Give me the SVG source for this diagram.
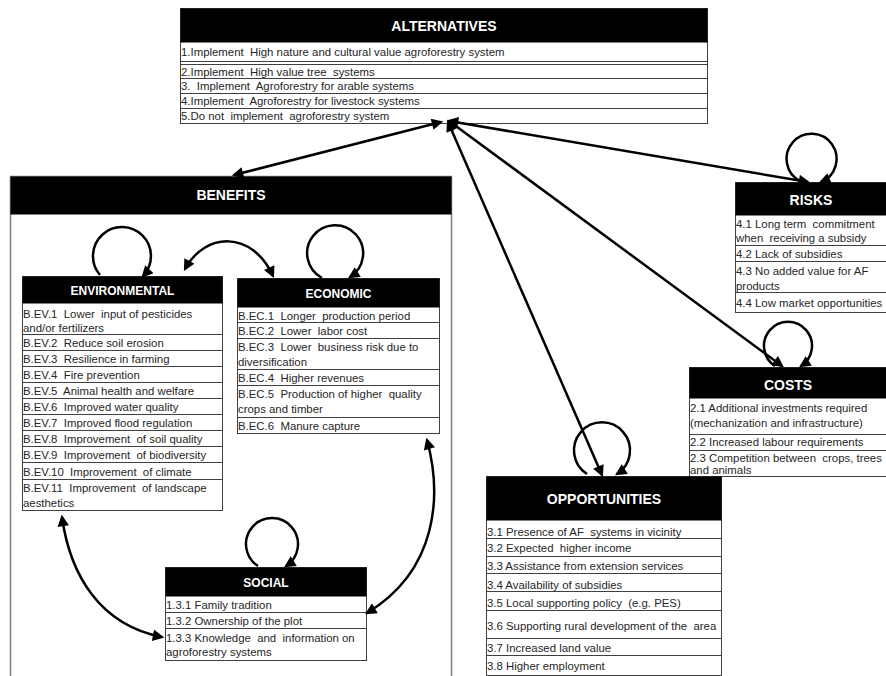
<svg xmlns="http://www.w3.org/2000/svg" width="886" height="676" viewBox="0 0 886 676">
<defs>
<marker id="ah" viewBox="0 0 10 10" refX="8" refY="5" markerWidth="5" markerHeight="4.6" orient="auto-start-reverse" markerUnits="strokeWidth">
<path d="M0,0 L10,5 L0,10 z" fill="#000"/>
</marker>
<style>
.box{fill:#fff;stroke:#404040;stroke-width:1}
.big{fill:#fff;stroke:#7f7f7f;stroke-width:1.5}
.hd{fill:#000}
.ln{stroke:#404040;stroke-width:1}
.t{font-family:"Liberation Sans",Arial,sans-serif;font-size:11.4px;fill:#262626;white-space:pre}
.h1{font-family:"Liberation Sans",Arial,sans-serif;font-size:14px;font-weight:bold;fill:#fff;text-anchor:middle}
.h2{font-family:"Liberation Sans",Arial,sans-serif;font-size:12px;font-weight:bold;fill:#fff;text-anchor:middle}
.c{fill:none;stroke:#000;stroke-width:2.5}
.ab{marker-start:url(#ah);marker-end:url(#ah)}
.ae{marker-end:url(#ah)}
</style>
</defs>
<rect width="886" height="676" fill="#fff"/>

<g id="benefits">
<rect class="big" x="10.5" y="176.5" width="441" height="510"/>
<rect class="hd" x="10.5" y="176.5" width="441" height="38"/>
<text class="h1" x="231" y="200">BENEFITS</text>
</g>

<g id="alternatives">
<rect class="box" x="180.5" y="8.5" width="527" height="115"/>
<rect class="hd" x="180.5" y="8.5" width="527" height="34"/>
<text class="h1" x="444" y="31">ALTERNATIVES</text>
<line class="ln" x1="180.5" y1="61.5" x2="707.5" y2="61.5"/>
<line class="ln" x1="180.5" y1="64.5" x2="707.5" y2="64.5"/>
<line class="ln" x1="180.5" y1="78.5" x2="707.5" y2="78.5"/>
<line class="ln" x1="180.5" y1="93.5" x2="707.5" y2="93.5"/>
<line class="ln" x1="180.5" y1="108.5" x2="707.5" y2="108.5"/>
<text class="t" x="181" y="55.5">1.Implement  High nature and cultural value agroforestry system</text>
<text class="t" x="181" y="75.5">2.Implement  High value tree  systems</text>
<text class="t" x="181" y="90">3.  Implement  Agroforestry for arable systems</text>
<text class="t" x="181" y="105">4.Implement  Agroforestry for livestock systems</text>
<text class="t" x="181" y="120">5.Do not  implement  agroforestry system</text>
</g>

<g id="environmental">
<rect class="box" x="22.5" y="276.5" width="200" height="234"/>
<rect class="hd" x="22.5" y="276.5" width="200" height="27"/>
<text class="h2" x="122.5" y="294.5">ENVIRONMENTAL</text>
<line class="ln" x1="22.5" y1="334.5" x2="222.5" y2="334.5"/>
<line class="ln" x1="22.5" y1="350.5" x2="222.5" y2="350.5"/>
<line class="ln" x1="22.5" y1="366.5" x2="222.5" y2="366.5"/>
<line class="ln" x1="22.5" y1="382.5" x2="222.5" y2="382.5"/>
<line class="ln" x1="22.5" y1="398.5" x2="222.5" y2="398.5"/>
<line class="ln" x1="22.5" y1="414.5" x2="222.5" y2="414.5"/>
<line class="ln" x1="22.5" y1="430.5" x2="222.5" y2="430.5"/>
<line class="ln" x1="22.5" y1="446.5" x2="222.5" y2="446.5"/>
<line class="ln" x1="22.5" y1="462.5" x2="222.5" y2="462.5"/>
<line class="ln" x1="22.5" y1="479.5" x2="222.5" y2="479.5"/>
<text class="t" x="23" y="317.5">B.EV.1  Lower  input of pesticides</text>
<text class="t" x="23" y="331.5">and/or fertilizers</text>
<text class="t" x="23" y="347">B.EV.2  Reduce soil erosion</text>
<text class="t" x="23" y="363">B.EV.3  Resilience in farming</text>
<text class="t" x="23" y="379">B.EV.4  Fire prevention</text>
<text class="t" x="23" y="395">B.EV.5  Animal health and welfare</text>
<text class="t" x="23" y="411">B.EV.6  Improved water quality</text>
<text class="t" x="23" y="427">B.EV.7  Improved flood regulation</text>
<text class="t" x="23" y="443">B.EV.8  Improvement  of soil quality</text>
<text class="t" x="23" y="459">B.EV.9  Improvement  of biodiversity</text>
<text class="t" x="23" y="475.5">B.EV.10  Improvement  of climate</text>
<text class="t" x="23" y="492">B.EV.11  Improvement  of landscape</text>
<text class="t" x="23" y="506.5">aesthetics</text>
</g>

<g id="economic">
<rect class="box" x="237.5" y="278.5" width="202" height="155"/>
<rect class="hd" x="237.5" y="278.5" width="202" height="29"/>
<text class="h2" x="338.5" y="297.5">ECONOMIC</text>
<line class="ln" x1="237.5" y1="322.5" x2="439.5" y2="322.5"/>
<line class="ln" x1="237.5" y1="338.5" x2="439.5" y2="338.5"/>
<line class="ln" x1="237.5" y1="369.5" x2="439.5" y2="369.5"/>
<line class="ln" x1="237.5" y1="385.5" x2="439.5" y2="385.5"/>
<line class="ln" x1="237.5" y1="417.5" x2="439.5" y2="417.5"/>
<text class="t" x="238" y="319.5">B.EC.1  Longer  production period</text>
<text class="t" x="238" y="335">B.EC.2  Lower  labor cost</text>
<text class="t" x="238" y="351">B.EC.3  Lower  business risk due to</text>
<text class="t" x="238" y="366">diversification</text>
<text class="t" x="238" y="382">B.EC.4  Higher revenues</text>
<text class="t" x="238" y="398">B.EC.5  Production of higher  quality</text>
<text class="t" x="238" y="413">crops and timber</text>
<text class="t" x="238" y="430">B.EC.6  Manure capture</text>
</g>

<g id="social">
<rect class="box" x="165.5" y="567.5" width="201" height="93"/>
<rect class="hd" x="165.5" y="567.5" width="201" height="29"/>
<text class="h2" x="266" y="586.5">SOCIAL</text>
<line class="ln" x1="165.5" y1="612.5" x2="366.5" y2="612.5"/>
<line class="ln" x1="165.5" y1="628.5" x2="366.5" y2="628.5"/>
<text class="t" x="166" y="609">1.3.1 Family tradition</text>
<text class="t" x="166" y="625">1.3.2 Ownership of the plot</text>
<text class="t" x="166" y="641.5">1.3.3 Knowledge  and  information on</text>
<text class="t" x="166" y="656">agroforestry systems</text>
</g>

<g id="risks">
<rect class="box" x="735.5" y="182.5" width="152" height="130"/>
<rect class="hd" x="735.5" y="182.5" width="152" height="33"/>
<text class="h1" x="811" y="204.5">RISKS</text>
<line class="ln" x1="735.5" y1="245.5" x2="887" y2="245.5"/>
<line class="ln" x1="735.5" y1="261.5" x2="887" y2="261.5"/>
<line class="ln" x1="735.5" y1="292.5" x2="887" y2="292.5"/>
<text class="t" x="736" y="228">4.1 Long term  commitment</text>
<text class="t" x="736" y="242">when  receiving a subsidy</text>
<text class="t" x="736" y="258">4.2 Lack of subsidies</text>
<text class="t" x="736" y="274.5">4.3 No added value for AF</text>
<text class="t" x="736" y="289.5">products</text>
<text class="t" x="736" y="306.5">4.4 Low market opportunities</text>
</g>

<g id="costs">
<rect class="box" x="689.5" y="367.5" width="198" height="109"/>
<rect class="hd" x="689.5" y="367.5" width="198" height="31"/>
<text class="h1" x="788" y="389.5">COSTS</text>
<line class="ln" x1="689.5" y1="434.5" x2="887" y2="434.5"/>
<line class="ln" x1="689.5" y1="450.5" x2="887" y2="450.5"/>
<text class="t" x="690" y="412">2.1 Additional investments required</text>
<text class="t" x="690" y="427">(mechanization and infrastructure)</text>
<text class="t" x="690" y="446">2.2 Increased labour requirements</text>
<text class="t" x="690" y="461.5">2.3 Competition between  crops, trees</text>
<text class="t" x="690" y="474">and animals</text>
</g>

<g id="opportunities">
<rect class="box" x="486.5" y="476.5" width="235" height="199"/>
<rect class="hd" x="486.5" y="476.5" width="235" height="44"/>
<text class="h1" x="604" y="503.5">OPPORTUNITIES</text>
<line class="ln" x1="486.5" y1="538.5" x2="721.5" y2="538.5"/>
<line class="ln" x1="486.5" y1="556.5" x2="721.5" y2="556.5"/>
<line class="ln" x1="486.5" y1="573.5" x2="721.5" y2="573.5"/>
<line class="ln" x1="486.5" y1="591.5" x2="721.5" y2="591.5"/>
<line class="ln" x1="486.5" y1="610.5" x2="721.5" y2="610.5"/>
<line class="ln" x1="486.5" y1="638.5" x2="721.5" y2="638.5"/>
<line class="ln" x1="486.5" y1="655.5" x2="721.5" y2="655.5"/>
<text class="t" x="487" y="535.5">3.1 Presence of AF  systems in vicinity</text>
<text class="t" x="487" y="552">3.2 Expected  higher income</text>
<text class="t" x="487" y="570">3.3 Assistance from extension services</text>
<text class="t" x="487" y="588.5">3.4 Availability of subsidies</text>
<text class="t" x="487" y="606.5">3.5 Local supporting policy  (e.g. PES)</text>
<text class="t" x="487" y="629.5">3.6 Supporting rural development of the  area</text>
<text class="t" x="487" y="651.5">3.7 Increased land value</text>
<text class="t" x="487" y="670">3.8 Higher employment</text>
</g>

<g id="connectors">
<path class="c ab" d="M441,122 L234,175"/>
<path class="c ab" d="M449,121 L808,182"/>
<path class="c ab" d="M449,121 L782,366"/>
<path class="c ab" d="M448,122 L602,475"/>
<path class="c ae" d="M100,275 A29,29 0 1 1 143,276"/>
<path class="c ae" d="M322,278 A28,28 0 1 1 350,277"/>
<path class="c ae" d="M258,566 A26,26 0 1 1 286,566"/>
<path class="c ae" d="M800,181 A25,25 0 1 1 821,182"/>
<path class="c ae" d="M775,366 A24,24 0 1 1 801,366"/>
<path class="c ae" d="M587,474 A28,28 0 1 1 617,474"/>
<path class="c ab" d="M185,269 C205,232 252,230 273,276"/>
<path class="c ab" d="M62,517 C70,575 100,625 162,637"/>
<path class="c ab" d="M427,440 C442,495 438,570 367,613"/>
</g>
</svg>
